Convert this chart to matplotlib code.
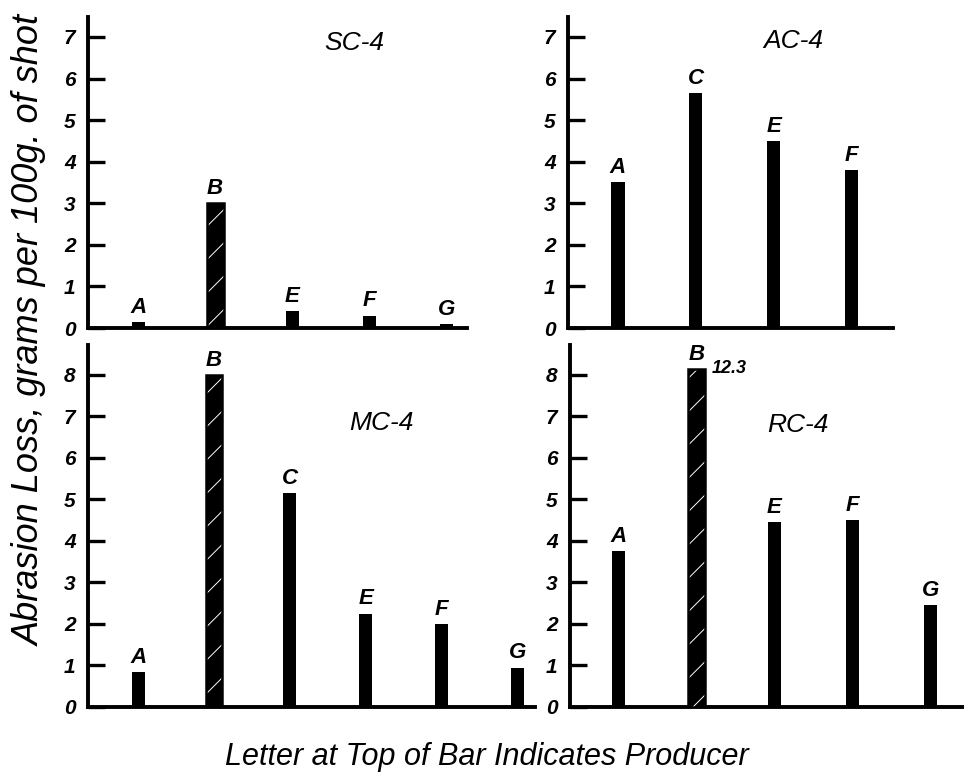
import matplotlib.pyplot as plt

# Abrasion loss (g per 100 g of shot) by producer, four shot types
sc4_producers = ["A", "B", "E", "F", "G"]
sc4_values = [0.15, 3.0, 0.4, 0.3, 0.1]

ac4_producers = ["A", "C", "E", "F"]
ac4_values = [3.5, 5.65, 4.5, 3.8]

mc4_producers = ["A", "B", "C", "E", "F", "G"]
mc4_values = [0.85, 8.0, 5.15, 2.25, 2.0, 0.95]

rc4_producers = ["A", "B", "E", "F", "G"]
rc4_values = [3.75, 12.3, 4.45, 4.5, 2.45]

top_ticks = list(range(0, 8))
bottom_ticks = list(range(0, 9))

W, H = 964, 784
fig = plt.figure(figsize=(W / 100, H / 100), dpi=100)
FONT = ["Liberation Sans", "DejaVu Sans"]
plt.rcParams["hatch.linewidth"] = 0.7


def px_axes(left, right, top, bottom):
    """axes from pixel box (origin top-left)"""
    return fig.add_axes([left / W, 1 - bottom / H, (right - left) / W, (bottom - top) / H])


def panel(ax, names, values, ticks, xlim, ylim, title, title_xy, cap=None):
    ax.set_xlim(*xlim)
    ax.set_ylim(*ylim)
    for s in ["top", "right"]:
        ax.spines[s].set_visible(False)
    for s in ["left", "bottom"]:
        ax.spines[s].set_linewidth(2.8)
    ax.set_xticks([])
    ax.set_yticks(ticks)
    ax.set_yticklabels([str(t) for t in ticks], fontsize=15, fontstyle="italic",
                       fontweight="bold", family=FONT)
    ax.tick_params(axis="y", direction="in", length=12, width=2.4, pad=9)
    for i, (n, v) in enumerate(zip(names, values)):
        shown = v if cap is None else min(v, cap)
        if n == "B":
            ax.bar(i, shown, width=0.22, color="black", edgecolor="white",
                   hatch="/", linewidth=0, zorder=3)
            ax.bar(i, shown, width=0.22, fill=False, edgecolor="black",
                   linewidth=1.8, zorder=4)
            if cap is not None and v > cap:
                ax.text(i + 0.2, shown, f"{v}", fontsize=13, fontstyle="italic",
                        fontweight="bold", family=FONT, va="center", ha="left")
        else:
            ax.bar(i, shown, width=0.17, color="black", zorder=3)
        ax.text(i, shown + 0.1, n, fontsize=16, fontstyle="italic",
                fontweight="bold", family=FONT, ha="center", va="bottom")
    ax.text(title_xy[0], title_xy[1], title, fontsize=19, fontstyle="italic",
            family=FONT, ha="center", va="center")


ax1 = px_axes(88, 467, 17, 328)
panel(ax1, sc4_producers, sc4_values, top_ticks, (-0.65, 4.27), (0, 7.48),
      "SC-4", (2.8, 6.85))

ax2 = px_axes(568, 893, 17, 328)
panel(ax2, ac4_producers, ac4_values, top_ticks, (-0.64, 3.53), (0, 7.48),
      "AC-4", (2.25, 6.9))

ax3 = px_axes(88, 535, 345, 707)
panel(ax3, mc4_producers, mc4_values, bottom_ticks, (-0.66, 5.23), (0, 8.72),
      "MC-4", (3.2, 6.85))

ax4 = px_axes(570, 963, 345, 707)
panel(ax4, rc4_producers, rc4_values, bottom_ticks, (-0.62, 4.42), (0, 8.72),
      "RC-4", (2.3, 6.8), cap=8.15)

fig.text(30 / W, 1 - 330 / H, "Abrasion Loss, grams per 100g. of shot",
         rotation=90, fontsize=26, fontstyle="italic", family=FONT,
         ha="center", va="center")
fig.text(487 / W, 1 - 757 / H, "Letter at Top of Bar Indicates Producer",
         fontsize=22, fontstyle="italic", family=FONT, ha="center", va="center")

fig.savefig("out.png", dpi=100)
